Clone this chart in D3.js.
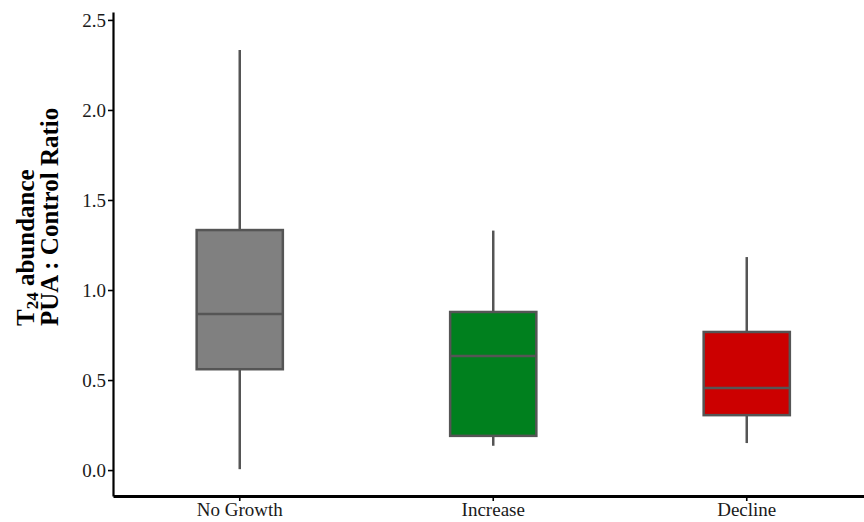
<!DOCTYPE html>
<html>
<head>
<meta charset="utf-8">
<script src="https://cdn.jsdelivr.net/npm/d3@7"></script>
<style>
  body { margin: 0; background: #fff; }
  svg { display: block; }
  .tick text { font-family: "Liberation Serif", "Times New Roman", serif; font-size: 19px; fill: #1a1a1a; }
</style>
</head>
<body>
<svg id="chart" width="864" height="522"></svg>
<script>
// groups and their box statistics
var groups = ['No Growth', 'Increase', 'Decline'];
var whiskerLow  = [0.005, 0.135, 0.150];
var boxLow      = [0.560, 0.190, 0.305];
var medians     = [0.867, 0.633, 0.456];
var boxHigh     = [1.333, 0.878, 0.767];
var whiskerHigh = [2.333, 1.330, 1.183];
var fills       = ['#808080', '#00801E', '#CC0000'];
var yTicks      = [0, 0.5, 1.0, 1.5, 2.0, 2.5];

var boxes = groups.map(function(g, i) {
  return { group: g, lo: whiskerLow[i], q1: boxLow[i], med: medians[i],
           q3: boxHigh[i], hi: whiskerHigh[i], fill: fills[i] };
});

var svg = d3.select('#chart');

var y = d3.scaleLinear()
          .domain([-0.144, 2.544])
          .range([496, 12]);

var x = d3.scaleBand()
          .domain(groups)
          .range([113, 873.5])
          .padding(0);

var boxW = x.bandwidth() * 0.34;
var edge = '#555555';

var g = svg.selectAll('g.box')
  .data(boxes)
  .enter().append('g')
  .attr('class', 'box')
  .attr('transform', function(d) { return 'translate(' + (x(d.group) + x.bandwidth() / 2) + ',0)'; });

// whiskers
g.append('line')
  .attr('x1', 0).attr('x2', 0)
  .attr('y1', function(d) { return y(d.hi); })
  .attr('y2', function(d) { return y(d.q3); })
  .attr('stroke', edge).attr('stroke-width', 2.5);
g.append('line')
  .attr('x1', 0).attr('x2', 0)
  .attr('y1', function(d) { return y(d.q1); })
  .attr('y2', function(d) { return y(d.lo); })
  .attr('stroke', edge).attr('stroke-width', 2.5);

// box
g.append('rect')
  .attr('x', -boxW / 2)
  .attr('width', boxW)
  .attr('y', function(d) { return y(d.q3); })
  .attr('height', function(d) { return y(d.q1) - y(d.q3); })
  .attr('fill', function(d) { return d.fill; })
  .attr('stroke', edge).attr('stroke-width', 2.5);

// median
g.append('line')
  .attr('x1', -boxW / 2).attr('x2', boxW / 2)
  .attr('y1', function(d) { return y(d.med); })
  .attr('y2', function(d) { return y(d.med); })
  .attr('stroke', edge).attr('stroke-width', 2.5);

// axes
var yAxis = d3.axisLeft(y)
              .tickValues(yTicks)
              .tickFormat(d3.format('.1f'))
              .tickSize(5)
              .tickSizeOuter(0)
              .tickPadding(2);

var xAxis = d3.axisBottom(x)
              .tickSize(5)
              .tickSizeOuter(0)
              .tickPadding(2);

var ya = svg.append('g')
  .attr('transform', 'translate(113,0)')
  .call(yAxis);
ya.select('.domain').attr('stroke', '#000').attr('stroke-width', 2.2);
ya.selectAll('.tick line').attr('stroke', '#000').attr('stroke-width', 1.6);

var xa = svg.append('g')
  .attr('transform', 'translate(0,496)')
  .call(xAxis);
xa.select('.domain').attr('stroke', '#000').attr('stroke-width', 3);
xa.selectAll('.tick line').attr('stroke', '#000').attr('stroke-width', 1.6);

// y title (two lines, start-aligned)
var title = svg.append('text')
  .attr('transform', 'translate(34,326) rotate(-90)')
  .attr('font-family', '"Liberation Serif", "Times New Roman", serif')
  .attr('font-weight', 'bold')
  .attr('font-size', 25)
  .attr('fill', '#000');

title.append('tspan').attr('x', 0).attr('y', 0).text('T');
title.append('tspan').attr('dy', 4).attr('font-size', 17).text('24');
title.append('tspan').attr('dy', -4).text(' abundance');
title.append('tspan').attr('x', 0).attr('y', 24).text('PUA : Control Ratio');
</script>
</body>
</html>
